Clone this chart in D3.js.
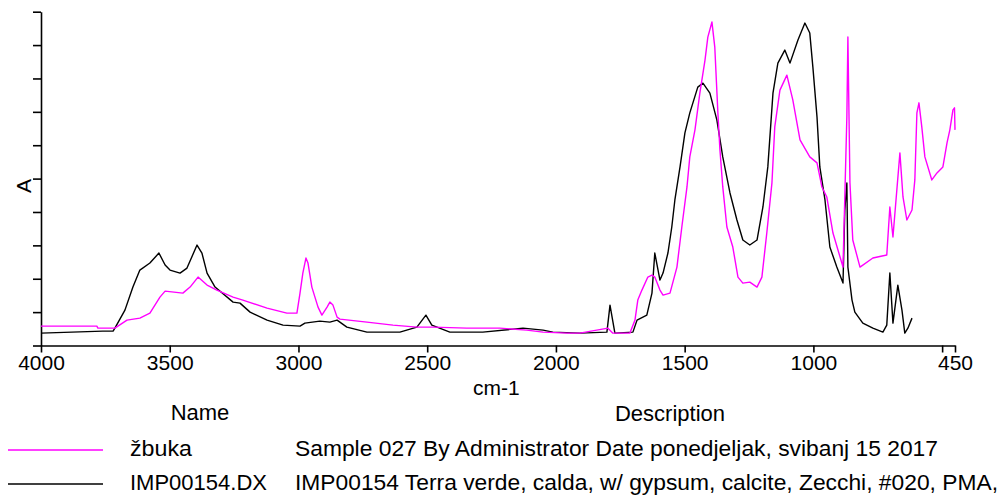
<!DOCTYPE html>
<html>
<head>
<meta charset="utf-8">
<script src="https://cdn.jsdelivr.net/npm/d3@7"></script>
<style>
  body { margin: 0; background: #fff; }
  text { font-family: "Liberation Sans", Arial, sans-serif; fill: #000; }
</style>
</head>
<body>
<svg id="chart"></svg>
<script>
// wavenumber (cm-1) and absorbance
const zbukaWn = [4000, 3783, 3779, 3713, 3666, 3616, 3577, 3538, 3518, 3449, 3421, 3390, 3355, 3317, 3254, 3216, 3122, 3045, 3006, 2994, 2983, 2971, 2963, 2948, 2924, 2909, 2889, 2878, 2866, 2850, 2839, 2734, 2633, 2540, 2478, 2346, 2218, 2113, 2050, 1957, 1907, 1798, 1779, 1713, 1693, 1682, 1666, 1643, 1627, 1616, 1596, 1584, 1557, 1530, 1511, 1491, 1480, 1460, 1441, 1421, 1410, 1394, 1383, 1371, 1363, 1352, 1336, 1313, 1293, 1274, 1247, 1219, 1200, 1181, 1161, 1150, 1130, 1103, 1080, 1052, 1014, 986, 967, 948, 924, 885, 870, 866, 858, 847, 819, 769, 715, 703, 691, 664, 652, 637, 617, 606, 598, 590, 579, 567, 540, 520, 497, 481, 470, 458, 452, 450];
const zbukaA = [0.058, 0.058, 0.052, 0.052, 0.076, 0.082, 0.097, 0.145, 0.163, 0.157, 0.175, 0.205, 0.181, 0.166, 0.145, 0.136, 0.112, 0.097, 0.097, 0.157, 0.217, 0.262, 0.247, 0.175, 0.115, 0.091, 0.115, 0.130, 0.121, 0.085, 0.079, 0.070, 0.061, 0.055, 0.055, 0.052, 0.052, 0.046, 0.040, 0.037, 0.037, 0.052, 0.037, 0.037, 0.076, 0.136, 0.166, 0.205, 0.211, 0.205, 0.166, 0.151, 0.157, 0.235, 0.355, 0.475, 0.565, 0.646, 0.756, 0.855, 0.924, 0.969, 0.894, 0.697, 0.586, 0.475, 0.355, 0.295, 0.205, 0.187, 0.190, 0.175, 0.205, 0.337, 0.487, 0.655, 0.765, 0.810, 0.736, 0.616, 0.565, 0.547, 0.475, 0.445, 0.337, 0.235, 0.685, 0.924, 0.487, 0.316, 0.235, 0.262, 0.271, 0.415, 0.325, 0.577, 0.445, 0.376, 0.406, 0.496, 0.697, 0.727, 0.655, 0.565, 0.496, 0.517, 0.535, 0.607, 0.646, 0.706, 0.712, 0.646];

const impWn = [4000, 3760, 3720, 3713, 3674, 3643, 3616, 3577, 3542, 3518, 3499, 3460, 3433, 3394, 3375, 3355, 3324, 3254, 3227, 3188, 3122, 3060, 2994, 2975, 2917, 2878, 2850, 2812, 2734, 2606, 2540, 2505, 2482, 2412, 2284, 2128, 2050, 2012, 1907, 1802, 1790, 1771, 1701, 1685, 1647, 1627, 1616, 1596, 1584, 1565, 1550, 1538, 1518, 1499, 1480, 1449, 1429, 1402, 1375, 1352, 1324, 1297, 1274, 1247, 1219, 1196, 1177, 1157, 1138, 1111, 1091, 1060, 1033, 1014, 1002, 986, 975, 955, 936, 909, 885, 878, 870, 866, 850, 839, 808, 769, 730, 715, 703, 691, 672, 656, 645, 633, 617];
const impA = [0.037, 0.043, 0.043, 0.052, 0.106, 0.175, 0.226, 0.247, 0.277, 0.241, 0.226, 0.217, 0.232, 0.301, 0.277, 0.217, 0.175, 0.130, 0.127, 0.100, 0.076, 0.061, 0.058, 0.067, 0.073, 0.070, 0.076, 0.055, 0.040, 0.040, 0.055, 0.091, 0.061, 0.040, 0.040, 0.052, 0.046, 0.040, 0.037, 0.040, 0.121, 0.037, 0.040, 0.076, 0.091, 0.157, 0.277, 0.196, 0.217, 0.277, 0.355, 0.436, 0.535, 0.637, 0.697, 0.774, 0.786, 0.756, 0.676, 0.565, 0.457, 0.376, 0.316, 0.301, 0.316, 0.415, 0.535, 0.756, 0.846, 0.885, 0.846, 0.915, 0.966, 0.936, 0.834, 0.685, 0.535, 0.436, 0.295, 0.235, 0.187, 0.405, 0.487, 0.235, 0.136, 0.100, 0.067, 0.052, 0.040, 0.061, 0.217, 0.067, 0.181, 0.106, 0.037, 0.052, 0.082];

const xTicks = [4000, 3500, 3000, 2500, 2000, 1500, 1000, 500, 450];
const xTickLabels = ["4000", "3500", "3000", "2500", "2000", "1500", "1000", "", "450"];

const seriesNames = ["žbuka", "IMP00154.DX"];
const seriesDescriptions = [
	"Sample 027 By Administrator Date ponedjeljak, svibanj 15 2017",
	"IMP00154 Terra verde, calda, w/ gypsum, calcite, Zecchi, #020, PMA,",
];
const seriesColors = ["#ff00ff", "#000000"];

const width = 1007;
const height = 495;
const svg = d3.select("#chart").attr("width", width).attr("height", height);

const x = d3.scaleLinear().domain([4000, 450]).range([41, 955]);
const y = d3.scaleLinear().domain([0, 1]).range([345.5, 11.7]);

// axes
const xAxis = svg.append("g")
	.attr("transform", `translate(0,${y(0)})`)
	.call(d3.axisBottom(x).tickValues(xTicks).tickSize(7).tickSizeOuter(0)
		.tickFormat((d, i) => xTickLabels[i]));
xAxis.selectAll("text").attr("font-family", null).attr("font-size", 21).attr("dy", "0.95em").attr("y", 5);
xAxis.selectAll("path, line").attr("stroke", "#000").attr("stroke-width", 1.6);

const yAxis = svg.append("g")
	.attr("transform", `translate(${x(4000)},0)`)
	.call(d3.axisLeft(y).ticks(10).tickSize(8).tickSizeOuter(0).tickFormat(""));
yAxis.selectAll("path, line").attr("stroke", "#000").attr("stroke-width", 1.6);

// axis titles
svg.append("text").attr("x", 473).attr("y", 395).attr("font-size", 21).text("cm-1");
svg.append("text")
	.attr("transform", "translate(31,186) rotate(-90)")
	.attr("text-anchor", "middle")
	.attr("font-size", 21)
	.text("A");

// spectra
const line = d3.line().x((d) => x(d[0])).y((d) => y(d[1]));
const spectra = [d3.zip(zbukaWn, zbukaA), d3.zip(impWn, impA)];

svg.append("g")
	.selectAll("path")
	.data([1, 0])
	.enter()
	.append("path")
	.attr("d", (i) => line(spectra[i]))
	.attr("fill", "none")
	.attr("stroke", (i) => seriesColors[i])
	.attr("stroke-width", 1.4)
	.attr("stroke-linejoin", "round");

// legend
svg.append("text").attr("x", 200).attr("y", 420).attr("text-anchor", "middle").attr("font-size", 22).text("Name");
svg.append("text").attr("x", 670).attr("y", 421).attr("text-anchor", "middle").attr("font-size", 22).text("Description");

const rowY = [450, 484];
const nameWidths = [62, 137];
const descWidths = [643, 703];
const rows = svg.append("g").selectAll("g").data(seriesNames).enter().append("g");
rows.append("line")
	.attr("x1", 8).attr("x2", 103)
	.attr("y1", (d, i) => rowY[i]).attr("y2", (d, i) => rowY[i])
	.attr("stroke", (d, i) => seriesColors[i])
	.attr("stroke-width", 1.6);
rows.append("text")
	.attr("x", 130).attr("y", (d, i) => rowY[i] + 6)
	.attr("font-size", 22)
	.attr("textLength", (d, i) => nameWidths[i])
	.attr("lengthAdjust", "spacingAndGlyphs")
	.text((d) => d);
rows.append("text")
	.attr("x", 295).attr("y", (d, i) => rowY[i] + 6)
	.attr("font-size", 22)
	.attr("textLength", (d, i) => descWidths[i])
	.attr("lengthAdjust", "spacingAndGlyphs")
	.text((d, i) => seriesDescriptions[i]);
</script>
</body>
</html>
